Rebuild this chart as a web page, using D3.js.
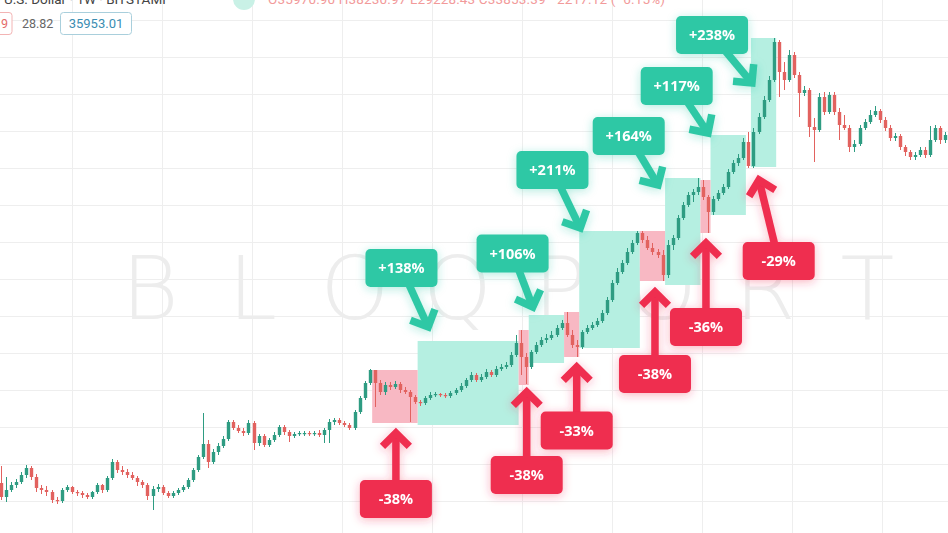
<!DOCTYPE html>
<html><head><meta charset="utf-8">
<script src="https://cdn.jsdelivr.net/npm/d3@7"></script>
<style>html,body{margin:0;padding:0;background:#fff;overflow:hidden}</style>
</head><body>
<svg id="chart" width="948" height="533"></svg>
<script>
// ---- data (weekly candles, price in arbitrary chart units) ----
const firstOpen = 37;
const closes = [
 23,30,35,38,45,52,43,32,30,28, 20,19,30,33,28,27,25,23,28,35,
 30,42,58,50,48,45,42,38,35,24, 31,33,27,24,27,30,33,40,50,63,
 76,58,68,74,81,98,92,89,87,97, 77,84,75,80,85,93,88,84,86,87,
 87,86,87,85,90,98,100,97,95,92, 108,122,137,150,137,128,135,133,136,130,
 128,123,118,117,122,125,126,125,124,127, 130,134,140,145,140,143,148,145,151,153,
 155,165,177,163,153,168,175,180,182,185, 192,197,185,175,173,188,192,195,199,207,
 220,237,248,257,268,277,287,280,272,268, 265,245,275,282,302,315,325,328,333,323,
 308,321,327,333,348,357,362,378,354,388, 403,420,440,478,448,440,465,445,427,430,
 393,390,423,408,425,408,395,392,373,376, 392,398,405,409,400,392,382,384,373,368,
 363,365,370,365,380,392,380,385
];
const highs = [
 54,43,38,41,48,55,54,46,35,34, 30,23,32,35,34,30,29,27,29,37,
 36,44,61,60,54,51,48,44,40,37, 34,36,35,29,29,32,35,42,52,65,
 107,80,71,77,84,100,100,95,92,100, 99,86,86,82,88,95,95,90,88,89,
 89,89,89,90,92,101,102,102,99,97, 110,124,139,151,150,140,138,138,139,138,
 133,130,125,120,124,128,128,127,127,129, 132,137,142,148,147,146,151,150,154,156,
 158,168,185,190,167,170,178,183,186,189, 195,200,208,190,180,190,195,198,202,210,
 223,240,252,260,272,280,289,289,284,277, 271,270,280,285,305,318,328,331,342,340,
 325,324,330,336,351,360,366,382,388,392, 407,424,444,482,480,458,470,468,448,434,
 432,402,427,428,428,428,412,405,395,380, 395,401,410,414,411,403,395,387,386,375,
 370,368,373,373,394,395,394,388
];
const lows = [
 20,18,28,32,36,42,40,28,26,24, 17,16,17,28,26,24,22,21,21,26,
 27,28,40,47,45,42,40,34,32,20, 10,28,25,22,22,25,28,31,38,48,
 61,52,56,65,72,79,90,87,84,85, 70,74,73,73,78,83,85,78,82,84,
 84,84,84,83,77,77,95,95,93,90, 90,106,120,135,113,125,125,130,131,127,
 126,98,116,114,115,120,123,123,122,122, 125,128,132,138,138,138,141,143,143,149,
 151,153,163,145,136,151,166,173,177,180, 183,190,183,172,163,171,186,190,193,197,
 205,218,235,246,255,266,275,277,270,265, 262,239,242,270,280,300,313,318,325,320,
 287,305,319,325,331,346,354,360,352,352, 386,401,418,438,423,430,438,442,403,424,
 383,358,388,405,406,405,380,390,368,368, 374,390,396,403,397,389,379,379,370,364,
 360,360,363,362,363,378,376,377
];

// rally (green) and correction (red) ranges: first/last candle index, price range
const rallyZones = [
 {first:83, last:102, lo:95,  hi:179},
 {first:105,last:111, lo:157, hi:205},
 {first:115,last:126, lo:172, hi:289},
 {first:132,last:138, lo:235, hi:342},
 {first:141,last:147, lo:305, hi:385},
 {first:149,last:153, lo:353, hi:482}
];
const dropZones = [
 {first:74, last:82,  lo:97,  hi:150},
 {first:103,last:104, lo:135, hi:190},
 {first:112,last:114, lo:163, hi:208},
 {first:127,last:131, lo:239, hi:289},
 {first:139,last:140, lo:287, hi:340}
];
// callouts: text, anchor (index, price), arrow tip (index, price)
const rallyLabels = [
 {text:"+138%", i:79.3,  p:252,   ti:84.6,  tp:193},
 {text:"+106%", i:101.3, p:266.5, ti:105.3, tp:213},
 {text:"+211%", i:109.2, p:350,   ti:114.7, tp:292},
 {text:"+164%", i:124.3, p:384,   ti:130.1, tp:335},
 {text:"+117%", i:133.8, p:434,   ti:140.0, tp:387},
 {text:"+238%", i:140.8, p:485,   ti:148.7, tp:437}
];
const dropLabels = [
 {text:"-38%", i:78.2,  p:21,  ti:78.2,  tp:87},
 {text:"-38%", i:104.1, p:45,  ti:104.1, tp:128},
 {text:"-33%", i:114.0, p:89.5,ti:114.0, tp:153},
 {text:"-38%", i:129.5, p:146, ti:129.5, tp:228},
 {text:"-36%", i:139.6, p:193, ti:139.6, tp:277},
 {text:"-29%", i:154.0, p:259, ti:150.1, tp:340}
];
const watermark = ["B","L","O","Q","P","O","R","T"];

// ---- drawing ----
const W = 948, H = 533;
const svg = d3.select("#chart");
const step = 5.05;
const x = d3.scaleLinear().domain([0, closes.length - 1]).range([1, 1 + (closes.length - 1) * step]);
const y = d3.scaleLinear().domain([0, 520]).range([520, 0]);

const UP = "#2e9c82", DOWN = "#e2625f";
const TEAL = "#2fc8a5", RED = "#ef2d50";

const defs = svg.append("defs");
function glow(id, color){
  const f = defs.append("filter").attr("id", id).attr("x","-60%").attr("y","-60%").attr("width","220%").attr("height","220%");
  f.append("feDropShadow").attr("dx",0).attr("dy",2).attr("stdDeviation",5)
   .attr("flood-color",color).attr("flood-opacity",0.35);
}
glow("glowT", TEAL); glow("glowR", RED);

svg.append("rect").attr("width",W).attr("height",H).attr("fill","#fff");

// grid
const grid = svg.append("g").attr("stroke","#eeeeee").attr("stroke-width",1);
d3.range(14.06, closes.length, 17.82).forEach(v => {
  const px = Math.round(x(v)) + 0.5;
  grid.append("line").attr("x1",px).attr("x2",px).attr("y1",0).attr("y2",H);
});
d3.range(19, 520, 37).forEach(v => {
  const py = Math.round(y(v)) + 0.5;
  grid.append("line").attr("x1",0).attr("x2",W).attr("y1",py).attr("y2",py);
});

// watermark
const wm = svg.append("g").attr("fill","#ededed")
  .attr("font-family","'DejaVu Sans', sans-serif").attr("font-weight",200).attr("font-size",88);
watermark.forEach((ch, k) => {
  wm.append("text").attr("x", 150 + k * 102.5).attr("y", 319).attr("text-anchor","middle").text(ch);
});

// zones
function zoneRect(g, z, fill){
  g.append("rect")
   .attr("x", x(z.first) - step/2).attr("width", x(z.last) - x(z.first) + step)
   .attr("y", y(z.hi)).attr("height", y(z.lo) - y(z.hi))
   .attr("fill", fill);
}
const zg = svg.append("g");
rallyZones.forEach(z => zoneRect(zg, z, "#b5efe1"));
dropZones.forEach(z => zoneRect(zg, z, "#f8b8c3"));

// candles
const cg = svg.append("g");
closes.forEach((c, i) => {
  const o = i === 0 ? firstOpen : closes[i-1];
  const col = c >= o ? UP : DOWN;
  const cx = Math.round(x(i)) + 0.5;
  cg.append("line").attr("x1",cx).attr("x2",cx).attr("y1",y(highs[i])).attr("y2",y(lows[i]))
    .attr("stroke",col).attr("stroke-width",1);
  const top = y(Math.max(o,c)), bot = y(Math.min(o,c));
  cg.append("rect").attr("x", cx - 1.7).attr("width", 3.4)
    .attr("y", top).attr("height", Math.max(1.2, bot - top)).attr("fill", col);
});

// callouts
function arrow(g, x0, y0, x1, y1, color, sw, arm){
  const dx = x1 - x0, dy = y1 - y0, len = Math.hypot(dx, dy);
  const ux = dx/len, uy = dy/len;
  g.append("line").attr("x1",x0).attr("y1",y0).attr("x2",x1 - ux*3).attr("y2",y1 - uy*3)
    .attr("stroke",color).attr("stroke-width",sw);
  const rot = a => [(-ux)*Math.cos(a) - (-uy)*Math.sin(a), (-ux)*Math.sin(a) + (-uy)*Math.cos(a)];
  const a1 = rot(Math.PI/4), a2 = rot(-Math.PI/4);
  g.append("path")
   .attr("d", `M${x1 + a1[0]*arm},${y1 + a1[1]*arm}L${x1},${y1}L${x1 + a2[0]*arm},${y1 + a2[1]*arm}`)
   .attr("fill","none").attr("stroke",color).attr("stroke-width",sw)
   .attr("stroke-linejoin","miter").attr("stroke-miterlimit",4);
}
function callout(d, color, filter, bw, bh){
  const g = svg.append("g").attr("filter", `url(#${filter})`);
  const cx = x(d.i), cy = y(d.p);
  arrow(g, cx, cy, x(d.ti), y(d.tp), color, 7.5, 19);
  g.append("rect").attr("x", cx - bw/2).attr("y", cy - bh/2).attr("width", bw).attr("height", bh)
    .attr("rx", 5).attr("fill", color);
  g.append("text").attr("x", cx).attr("y", cy + 5).attr("text-anchor","middle")
    .attr("font-family","'Open Sans', sans-serif").attr("font-weight",700).attr("font-size",14.5)
    .attr("fill","#fff").text(d.text);
}
rallyLabels.forEach(d => callout(d, TEAL, "glowT", 72, 38));
dropLabels.forEach(d => callout(d, RED, "glowR", 72, 38));

// header (cut off at top)
const hd = svg.append("g").attr("font-family","Roboto, sans-serif");
hd.append("text").attr("x",-4).attr("y",4).attr("font-size",13.5).attr("fill","#444")
  .text("• U.S. Dollar · 1W · BITSTAMP");
hd.append("circle").attr("cx",244).attr("cy",-1).attr("r",11).attr("fill","#c9f1e6");
hd.append("text").attr("x",268).attr("y",4).attr("font-size",13.5).attr("fill","#f29a9a")
  .attr("textLength",397).text("O35970.90 H38230.97 L29228.43 C33853.39 −2217.12 (−6.15%)");
hd.append("rect").attr("x",-20).attr("y",12.5).attr("width",32).attr("height",22).attr("rx",3)
  .attr("fill","#fff").attr("stroke","#f3b4b4");
hd.append("text").attr("x",1).attr("y",28).attr("font-size",12.5).attr("fill","#e46b6b").text("9");
hd.append("text").attr("x",22).attr("y",28).attr("font-size",12.5).attr("fill","#666").text("28.82");
hd.append("rect").attr("x",60.5).attr("y",12.5).attr("width",71).attr("height",22).attr("rx",3)
  .attr("fill","#fff").attr("stroke","#a9cfdc");
hd.append("text").attr("x",96).attr("y",28).attr("text-anchor","middle").attr("font-size",13)
  .attr("fill","#3a8db2").text("35953.01");
</script>
</body></html>
